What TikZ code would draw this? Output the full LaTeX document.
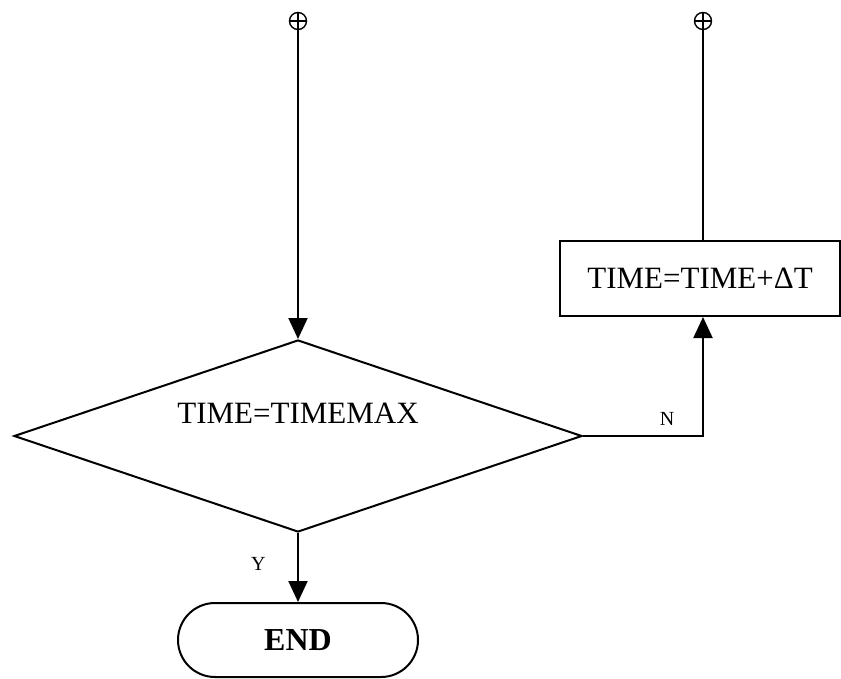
\documentclass[tikz,border=0pt]{standalone}
\usepackage{fontspec}
\setmainfont{Liberation Serif}
\usetikzlibrary{shapes.geometric,shapes.misc,arrows.meta}
\begin{document}
\begin{tikzpicture}[x=1pt,y=-1pt,
  line width=2pt,
  bigtext/.style={font=\fontsize{31}{37}\selectfont},
  smalltext/.style={font=\fontsize{20}{24}\selectfont},
  decision/.style={diamond,draw,inner sep=0pt,minimum width=568pt,minimum height=192pt,aspect=2.958},
  process/.style={rectangle,draw,inner sep=0pt,minimum width=280pt,minimum height=75pt,bigtext},
  terminal/.style={rounded rectangle,draw,inner sep=0pt,minimum width=240pt,minimum height=74pt,font=\fontsize{32}{38}\selectfont\bfseries},
  connector/.style={circle,draw,line width=1.4pt,minimum size=17pt,inner sep=0pt},
  flow/.style={-{Triangle[length=21pt,width=19pt]}},
  plain/.style={-}]
\useasboundingbox (0,0) rectangle (841,679);
\node[connector] (c1) at (298,21) {};
\node[connector] (c2) at (703,21) {};
\draw[line width=1.4pt] (c1.north) -- (c1.south) (c1.west) -- (c1.east);
\draw[line width=1.4pt] (c2.north) -- (c2.south) (c2.west) -- (c2.east);
\node[decision,label={[bigtext,yshift=23pt]center:TIME=TIMEMAX}] (dec) at (298,436) {};
\node[process] (upd) at (700,278.5) {TIME=TIME+ΔT};
\node[terminal] (end) at (298,640) {END};
\draw[flow] (c1.south) -- (dec.north);
\draw[plain] (c2.south) -- (c2 |- upd.north);
\draw[flow] (dec.east) -| node[smalltext,pos=0.35,above=6pt] (nlab) {N} (c2 |- upd.south);
\draw[flow] (dec.south) -- node[smalltext,left=28pt,pos=0.45] (ylab) {Y} (end.north);
\end{tikzpicture}
\end{document}
